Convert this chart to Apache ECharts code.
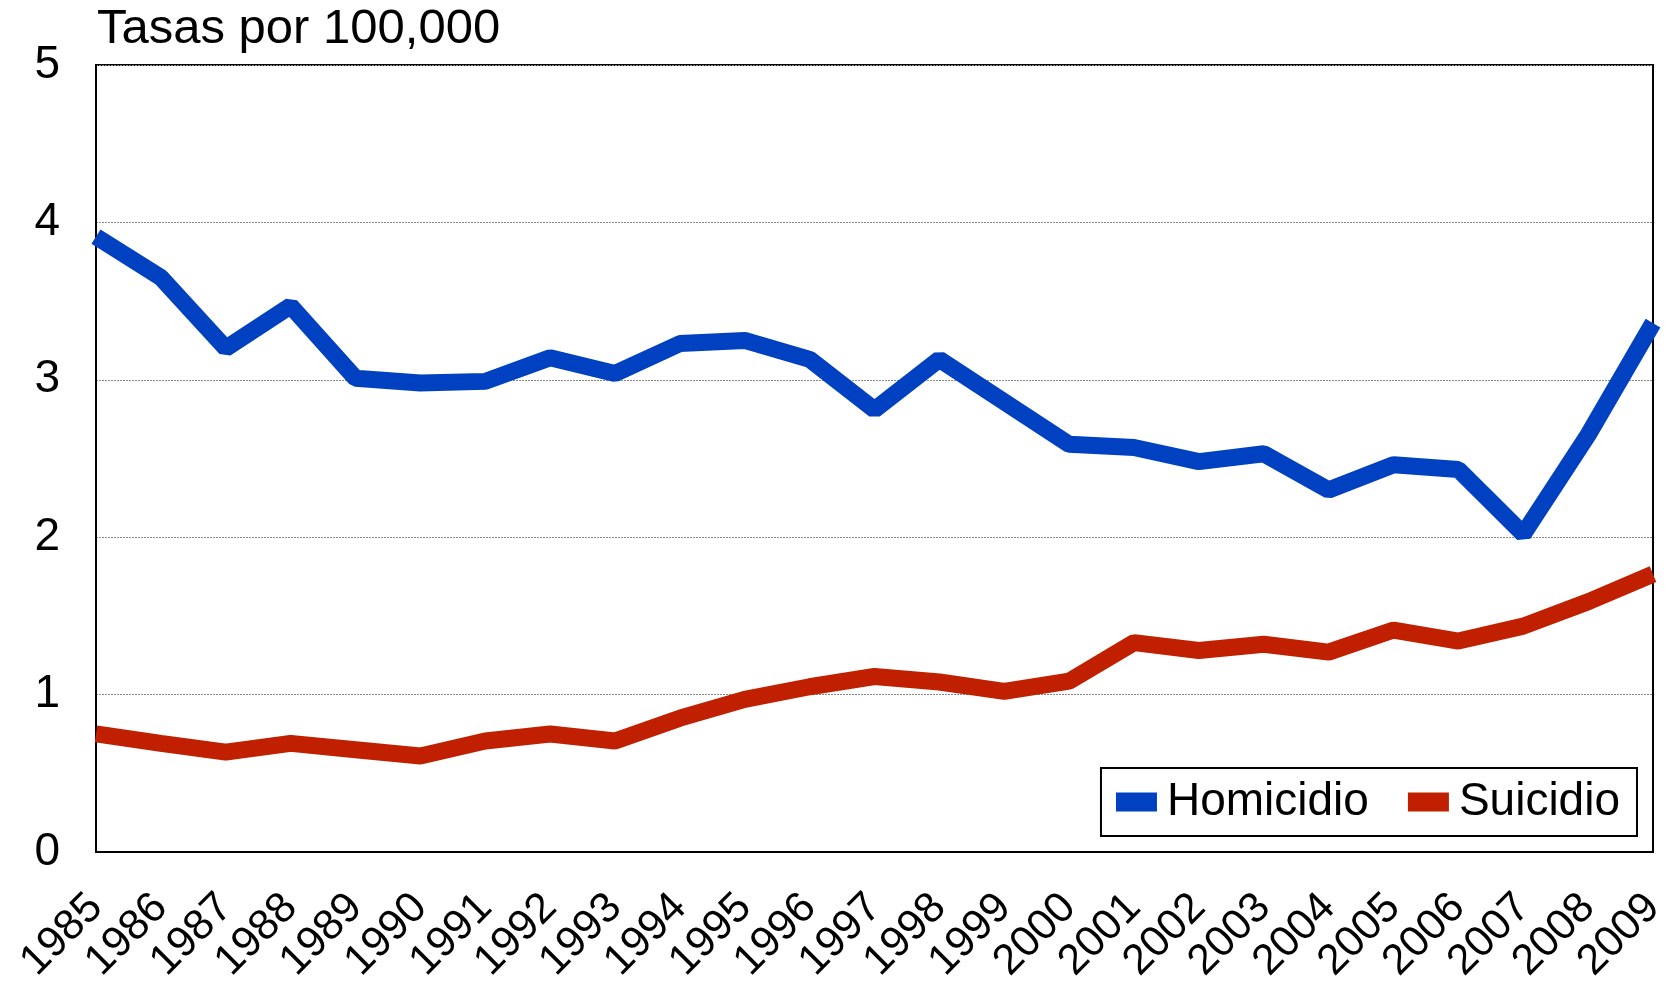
<!DOCTYPE html>
<html>
<head>
<meta charset="utf-8">
<script src="https://cdn.jsdelivr.net/npm/echarts@6/dist/echarts.min.js"></script>
<style>
  html, body { margin: 0; padding: 0; background: #fff; }
  #chart { width: 1673px; height: 982px; }
</style>
</head>
<body>
<div id="chart"></div>
<script>
const years = ["1985", "1986", "1987", "1988", "1989", "1990", "1991", "1992", "1993", "1994",
  "1995", "1996", "1997", "1998", "1999", "2000", "2001", "2002", "2003", "2004",
  "2005", "2006", "2007", "2008", "2009"];
const homicidio = [3.91, 3.65, 3.20, 3.47, 3.01, 2.98, 2.99, 3.14, 3.04, 3.23,
  3.25, 3.13, 2.81, 3.13, 2.86, 2.59, 2.57, 2.48, 2.53, 2.30,
  2.46, 2.43, 2.02, 2.65, 3.36];
const suicidio = [0.75, 0.69, 0.635, 0.69, 0.65, 0.61, 0.705, 0.75, 0.705, 0.85,
  0.97, 1.05, 1.115, 1.08, 1.02, 1.085, 1.33, 1.28, 1.32, 1.27,
  1.41, 1.34, 1.435, 1.59, 1.765];

const font = "Liberation Sans, Arial, sans-serif";
const chart = echarts.init(document.getElementById("chart"));

chart.setOption({
  animation: false,
  title: {
    text: "Tasas por 100,000",
    left: 92,
    top: 0,
    textStyle: { fontFamily: font, fontSize: 49, fontWeight: "normal", color: "#000" }
  },
  legend: {
    data: ["Homicidio", "Suicidio"],
    right: 36,
    top: 768,
    icon: "rect",
    itemWidth: 41,
    itemHeight: 19,
    itemGap: 39,
    padding: [11, 17, 11, 15],
    borderColor: "#000",
    borderWidth: 2,
    textStyle: { fontFamily: font, fontSize: 46, color: "#000", padding: [0, 0, 0, 5] }
  },
  grid: {
    left: 96,
    right: 20,
    top: 65,
    bottom: 130,
    outerBoundsMode: "none",
    show: true,
    borderColor: "#000",
    borderWidth: 2
  },
  xAxis: {
    type: "category",
    data: years,
    boundaryGap: false,
    axisLine: { lineStyle: { color: "#000", width: 2 } },
    axisTick: { show: false },
    axisLabel: {
      rotate: 45,
      interval: 0,
      margin: 49,
      fontFamily: font,
      fontSize: 43,
      color: "#000"
    }
  },
  yAxis: {
    type: "value",
    min: 0,
    max: 5,
    interval: 1,
    axisLine: { show: true, lineStyle: { color: "#000", width: 2 } },
    axisTick: { show: false },
    axisLabel: { margin: 36, fontFamily: font, fontSize: 46, color: "#000" },
    splitLine: { lineStyle: { color: "#888", width: 1, type: [2, 1] } }
  },
  series: [
    {
      name: "Homicidio",
      type: "line",
      data: homicidio,
      symbol: "none",
      color: "#0041C2",
      lineStyle: { width: 17, color: "#0041C2" },
      z: 3
    },
    {
      name: "Suicidio",
      type: "line",
      data: suicidio,
      symbol: "none",
      color: "#C02000",
      lineStyle: { width: 17, color: "#C02000" },
      z: 3
    }
  ]
});
</script>
</body>
</html>
